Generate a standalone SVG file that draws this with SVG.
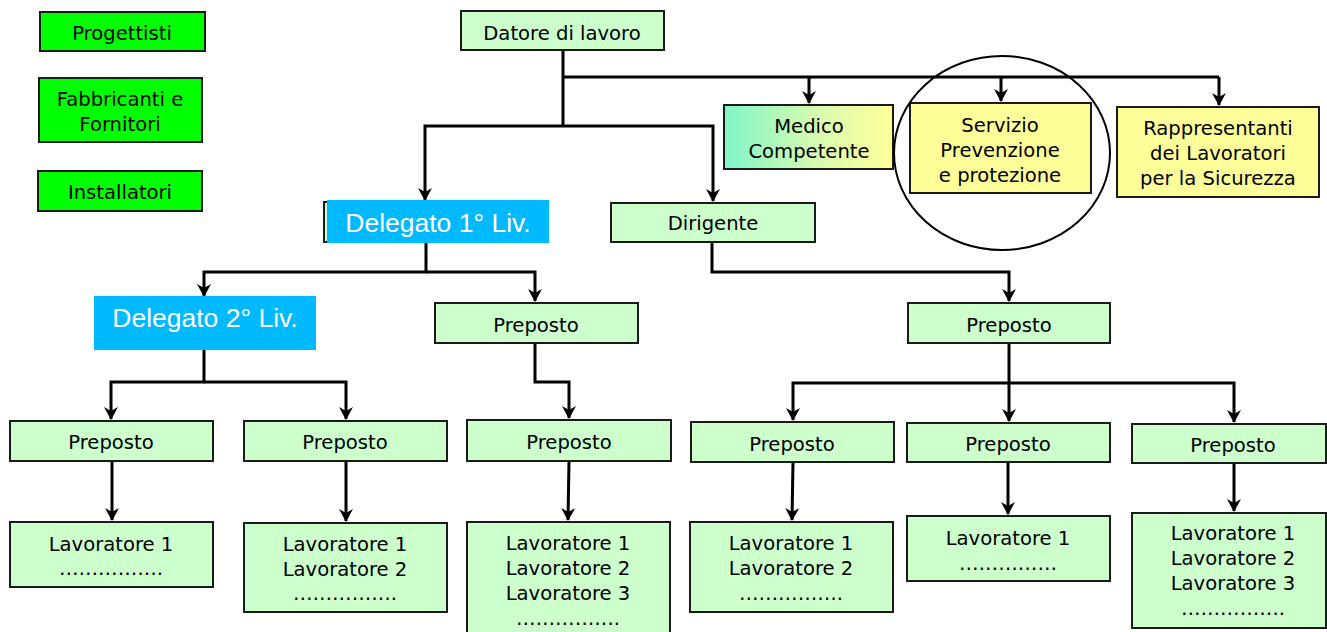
<svg xmlns="http://www.w3.org/2000/svg" width="1327" height="632" viewBox="0 0 1327 632">
<style>
.g{fill:#ccffcc;stroke:#1a1a1a;stroke-width:2}
.b{fill:#00ff00;stroke:#1a1a1a;stroke-width:2}
.y{fill:#ffff99;stroke:#1a1a1a;stroke-width:2}
.d{fill:#00b9ff}
text{font-family:"DejaVu Sans",Verdana,sans-serif;font-size:19.6px;fill:#000;text-anchor:middle}
.w{font-family:"Liberation Sans",Arial,sans-serif;font-size:26.5px;fill:#fff}
.c{fill:none;stroke:#000;stroke-width:3}
</style>
<defs>
<marker id="ah" markerUnits="userSpaceOnUse" markerWidth="16" markerHeight="16" refX="12" refY="7" orient="auto">
<path d="M0,0 L13,7 L0,14 L4,7 z" fill="#000"/>
</marker>
<linearGradient id="mg" x1="0" y1="0" x2="1" y2="0">
<stop offset="0" stop-color="#7ff5c8"/>
<stop offset="0.55" stop-color="#d8fbb0"/>
<stop offset="1" stop-color="#ffff99"/>
</linearGradient>
</defs>

<g id="connectors">
<path class="c" d="M563,50 V126"/>
<path class="c" d="M563,77 H1219"/>
<path class="c" d="M809,77 V103" marker-end="url(#ah)"/>
<path class="c" d="M1001,77 V101" marker-end="url(#ah)"/>
<path class="c" d="M1219,77 V105" marker-end="url(#ah)"/>
<path class="c" d="M563,126 H425 V200" marker-end="url(#ah)"/>
<path class="c" d="M563,126 H713 V201" marker-end="url(#ah)"/>
<path class="c" d="M426,243 V272 H204 V296" marker-end="url(#ah)"/>
<path class="c" d="M426,272 H535 V301" marker-end="url(#ah)"/>
<path class="c" d="M204,350 V382 H111 V419" marker-end="url(#ah)"/>
<path class="c" d="M204,382 H346 V419" marker-end="url(#ah)"/>
<path class="c" d="M535,343 V382 H569 V418" marker-end="url(#ah)"/>
<path class="c" d="M712,242 V272 H1009 V301" marker-end="url(#ah)"/>
<path class="c" d="M1009,343 V383"/>
<path class="c" d="M1009,383 H793 V420" marker-end="url(#ah)"/>
<path class="c" d="M1009,383 V421" marker-end="url(#ah)"/>
<path class="c" d="M1009,383 H1234 V422" marker-end="url(#ah)"/>
<path class="c" d="M112,461 V520" marker-end="url(#ah)"/>
<path class="c" d="M346,461 V521" marker-end="url(#ah)"/>
<path class="c" d="M569,461 L568,520" marker-end="url(#ah)"/>
<path class="c" d="M793,462 L792,520" marker-end="url(#ah)"/>
<path class="c" d="M1008,462 V514" marker-end="url(#ah)"/>
<path class="c" d="M1234,463 V511" marker-end="url(#ah)"/>
</g>

<g id="progettisti"><rect class="b" x="40" y="12" width="165" height="39"/><text x="122" y="40">Progettisti</text></g>
<g id="fabbricanti"><rect class="b" x="39" y="78" width="163" height="64"/><text x="120" y="106">Fabbricanti e</text><text x="120" y="131">Fornitori</text></g>
<g id="installatori"><rect class="b" x="38" y="171" width="164" height="40"/><text x="120" y="199">Installatori</text></g>

<g id="datore"><rect class="g" x="461" y="11" width="203" height="39"/><text x="562" y="40">Datore di lavoro</text></g>
<g id="medico"><rect x="724" y="105" width="169" height="64" fill="url(#mg)" stroke="#1a1a1a" stroke-width="2"/><text x="809" y="133">Medico</text><text x="809" y="158">Competente</text></g>
<g id="servizio"><rect class="y" x="910" y="103" width="181" height="90"/><text x="1000" y="132">Servizio</text><text x="1000" y="157">Prevenzione</text><text x="1000" y="182">e protezione</text></g>
<g id="circle"><ellipse cx="1002" cy="153" rx="108" ry="97" fill="none" stroke="#000" stroke-width="2"/></g>
<g id="rappresentanti"><rect class="y" x="1117" y="107" width="202" height="90"/><text x="1218" y="135">Rappresentanti</text><text x="1218" y="160">dei Lavoratori</text><text x="1218" y="185">per la Sicurezza</text></g>

<g id="delegato1"><rect class="g" x="324" y="202" width="222" height="40"/><rect class="d" x="327" y="200" width="222" height="43"/><text class="w" x="438" y="232">Delegato 1° Liv.</text></g>
<g id="dirigente"><rect class="g" x="611" y="203" width="204" height="39"/><text x="713" y="230">Dirigente</text></g>
<g id="delegato2"><rect class="d" x="94" y="296" width="222" height="54"/><text class="w" x="205" y="327">Delegato 2° Liv.</text></g>
<g id="preposto-a"><rect class="g" x="435" y="303" width="203" height="40"/><text x="536" y="332">Preposto</text></g>
<g id="preposto-b"><rect class="g" x="908" y="303" width="202" height="40"/><text x="1009" y="332">Preposto</text></g>

<g id="preposto-1"><rect class="g" x="10" y="421" width="203" height="40"/><text x="111" y="449">Preposto</text></g>
<g id="preposto-2"><rect class="g" x="244" y="421" width="203" height="40"/><text x="345" y="449">Preposto</text></g>
<g id="preposto-3"><rect class="g" x="467" y="420" width="204" height="41"/><text x="569" y="449">Preposto</text></g>
<g id="preposto-4"><rect class="g" x="691" y="422" width="203" height="40"/><text x="792" y="451">Preposto</text></g>
<g id="preposto-5"><rect class="g" x="907" y="423" width="203" height="39"/><text x="1008" y="451">Preposto</text></g>
<g id="preposto-6"><rect class="g" x="1132" y="424" width="194" height="39"/><text x="1233" y="452">Preposto</text></g>

<g id="lav-1"><rect class="g" x="10" y="522" width="203" height="65"/><text x="111" y="551">Lavoratore 1</text><text x="111" y="575">…………….</text></g>
<g id="lav-2"><rect class="g" x="244" y="523" width="203" height="89"/><text x="345" y="551">Lavoratore 1</text><text x="345" y="576">Lavoratore 2</text><text x="345" y="600">…………….</text></g>
<g id="lav-3"><rect class="g" x="467" y="522" width="203" height="114"/><text x="568" y="550">Lavoratore 1</text><text x="568" y="575">Lavoratore 2</text><text x="568" y="600">Lavoratore 3</text><text x="568" y="625">…………….</text></g>
<g id="lav-4"><rect class="g" x="690" y="522" width="203" height="90"/><text x="791" y="550">Lavoratore 1</text><text x="791" y="575">Lavoratore 2</text><text x="791" y="600">…………….</text></g>
<g id="lav-5"><rect class="g" x="907" y="516" width="203" height="65"/><text x="1008" y="545">Lavoratore 1</text><text x="1008" y="570">……………</text></g>
<g id="lav-6"><rect class="g" x="1132" y="513" width="194" height="115"/><text x="1233" y="540">Lavoratore 1</text><text x="1233" y="565">Lavoratore 2</text><text x="1233" y="590">Lavoratore 3</text><text x="1233" y="615">…………….</text></g>
</svg>
